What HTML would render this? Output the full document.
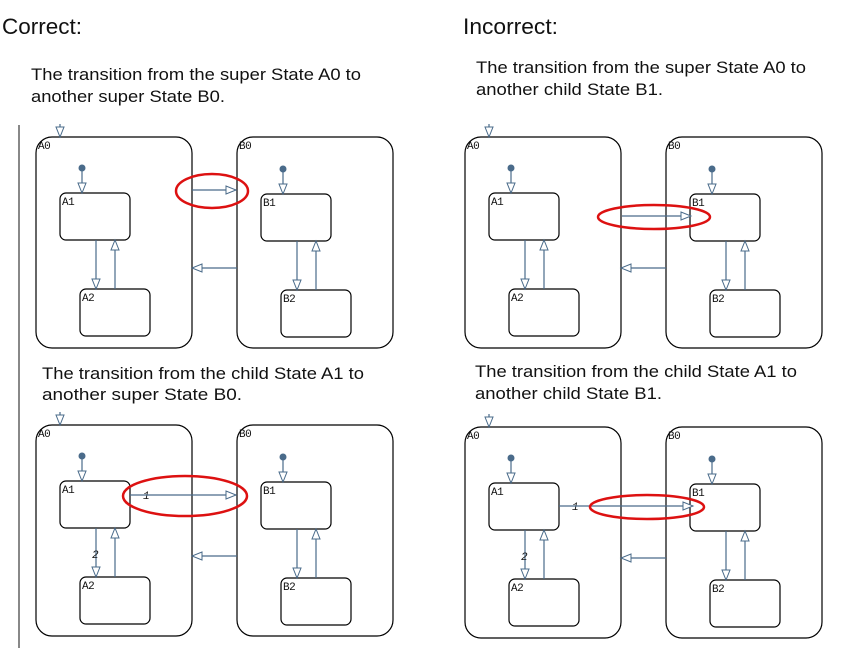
<!DOCTYPE html>
<html><head><meta charset="utf-8"><style>
html,body{margin:0;padding:0;background:#fff;width:847px;height:654px;overflow:hidden}
svg{display:block}
.h{font-family:"Liberation Sans",sans-serif;font-size:22px;fill:#111}
.c{font-family:"Liberation Sans",sans-serif;font-size:17px;fill:#111}
.l{font-family:"Liberation Mono",monospace;font-size:11px;fill:#111}
</style></head><body>
<svg id="s" width="847" height="654" xmlns="http://www.w3.org/2000/svg">
<text class="h" x="2" y="34" textLength="80" lengthAdjust="spacingAndGlyphs">Correct:</text>
<text class="h" x="463" y="34" textLength="95" lengthAdjust="spacingAndGlyphs">Incorrect:</text>
<text class="c" x="31" y="80" textLength="330" lengthAdjust="spacingAndGlyphs">The transition from the super State A0 to</text>
<text class="c" x="31" y="102" textLength="194" lengthAdjust="spacingAndGlyphs">another super State B0.</text>
<text class="c" x="476" y="73" textLength="330" lengthAdjust="spacingAndGlyphs">The transition from the super State A0 to</text>
<text class="c" x="476" y="95" textLength="187" lengthAdjust="spacingAndGlyphs">another child State B1.</text>
<text class="c" x="42" y="379" textLength="322" lengthAdjust="spacingAndGlyphs">The transition from the child State A1 to</text>
<text class="c" x="42" y="400" textLength="200" lengthAdjust="spacingAndGlyphs">another super State B0.</text>
<text class="c" x="475" y="377" textLength="322" lengthAdjust="spacingAndGlyphs">The transition from the child State A1 to</text>
<text class="c" x="475" y="399" textLength="187" lengthAdjust="spacingAndGlyphs">another child State B1.</text>
<line x1="19" y1="125" x2="19" y2="648" stroke="#888" stroke-width="2"/>
</svg>
<script>
const NS="http://www.w3.org/2000/svg";
const svg=document.getElementById('s');
const panelNames=['panel-correct-super','panel-incorrect-super','panel-correct-child','panel-incorrect-child'];
const panelDx=[0,429,0,429];
const panelDy=[0,0,288,290];
const arrowStartX=[192,622,130,559];
const arrowEndX=[236,691,236,693];
const arrowY=[190,216,495,506];
const ellCx=[212,654,185,647];
const ellRx=[36,56,62,57];
const ellRy=[17,12,20,12];
const labelled=[false,false,true,true];
function el(tag,attrs,parent){const e=document.createElementNS(NS,tag);for(const k in attrs)e.setAttribute(k,attrs[k]);(parent||svg).appendChild(e);return e;}
const blue="#4a6b8a";
function arrowHead(g,x,y,dir){
  let p;
  if(dir==='d')p=`${x-4},${y-10} ${x+4},${y-10} ${x},${y}`;
  if(dir==='u')p=`${x-4},${y+10} ${x+4},${y+10} ${x},${y}`;
  if(dir==='r')p=`${x-10},${y-4} ${x-10},${y+4} ${x},${y}`;
  if(dir==='l')p=`${x+10},${y-4} ${x+10},${y+4} ${x},${y}`;
  const a=el('polygon',{points:p,fill:'#fff',stroke:blue,'stroke-width':1},g);
  
  
}
function state(g,x,y,w,h,r,label,name){
  const rc=el('rect',{x,y,width:w,height:h,rx:r,fill:'none',stroke:'#000','stroke-width':1.2},g);
  
  
  const t=el('text',{x:x+2,y:y+12,class:'l','letter-spacing':'-0.5'},g);t.textContent=label;
  
  
}
function line(g,x1,y1,x2,y2){
  const l=el('line',{x1,y1,x2,y2,stroke:blue,'stroke-width':1.2},g);
  
  
}
for(let i=0;i<4;i++){
  const dx=panelDx[i],dy=panelDy[i];
  const g=el('g',{transform:`translate(${dx},${dy})`});
  
  
  state(g,36,137,156,211,16,'A0','state-a0');
  state(g,237,137,156,211,16,'B0','state-b0');
  state(g,60,193,70,47,6,'A1','state-a1');
  state(g,80,289,70,47,6,'A2','state-a2');
  state(g,261,194,70,47,6,'B1','state-b1');
  state(g,281,290,70,47,6,'B2','state-b2');
  line(g,60,124,60,137);arrowHead(g,60,137,'d');
  [[82,193],[283,194]].forEach(([x,y])=>{
    const c=el('circle',{cx:x,cy:y-25,r:3.5,fill:blue},g);
    
    
    line(g,x,y-25,x,y);arrowHead(g,x,y,'d');
  });
  line(g,96,240,96,289);arrowHead(g,96,289,'d');
  line(g,115,289,115,240);arrowHead(g,115,240,'u');
  line(g,297,241,297,290);arrowHead(g,297,290,'d');
  line(g,316,290,316,241);arrowHead(g,316,241,'u');
  line(g,237,268,192,268);arrowHead(g,192,268,'l');
  if(labelled[i]){
    const t1=el('text',{x:143,y:arrowY[i]-dy+4,class:'l','font-style':'italic',fill:blue},g);t1.textContent='1';
    
    
    const t2=el('text',{x:92,y:270,class:'l','font-style':'italic',fill:blue},g);t2.textContent='2';
    
    
  }
}
for(let i=0;i<4;i++){
  const g=el('g',{});
  
  
  const y=arrowY[i];
  line(g,arrowStartX[i],y,arrowEndX[i],y);arrowHead(g,arrowEndX[i],y,'r');
  const e=el('ellipse',{cx:ellCx[i],cy:y+1,rx:ellRx[i],ry:ellRy[i],fill:'none',stroke:'#d11','stroke-width':2.5},g);
  
  
}
</script>
</body></html>
